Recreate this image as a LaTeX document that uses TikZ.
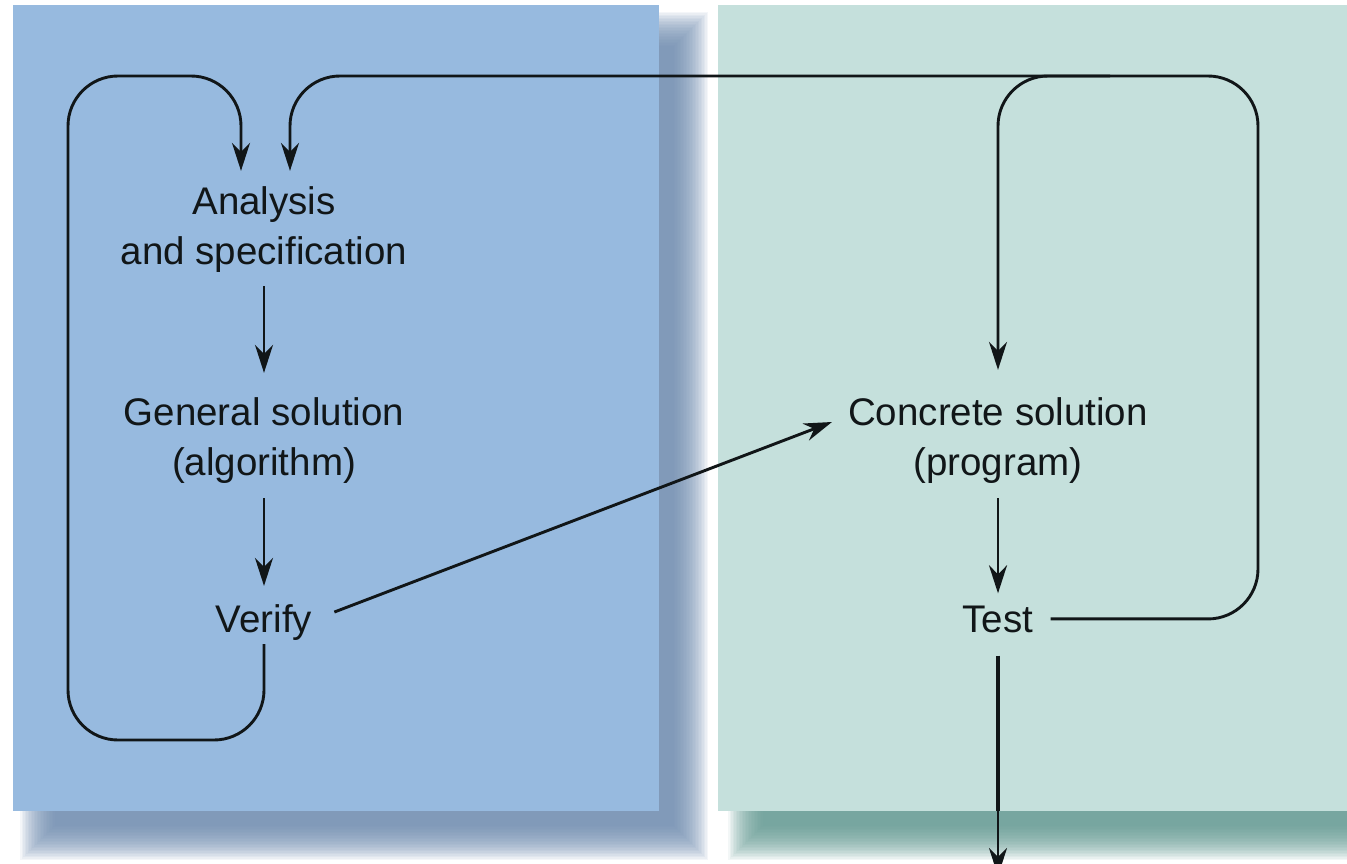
\documentclass[tikz,border=0pt]{standalone}
\usepackage{fontspec}
\setmainfont{Liberation Sans}
\usetikzlibrary{arrows.meta}
\definecolor{bluepanel}{RGB}{151,186,223}
\definecolor{greenpanel}{RGB}{197,224,220}
\definecolor{blueshadow}{RGB}{112,142,178}
\definecolor{greenshadow}{RGB}{100,156,149}
\definecolor{ink}{RGB}{17,22,24}
\tikzset{
  lbl/.style={inner sep=0pt, align=center, font=\fontsize{38.5}{50}\selectfont, text=ink},
  conn/.style={draw=ink, line width=2.9pt},
  arr/.style={conn, -{Stealth[length=28pt,width=18pt,inset=9pt]}},
  loop/.style={arr, rounded corners=50pt},
}
\begin{document}
\begin{tikzpicture}[x=1pt,y=-1pt]
\useasboundingbox (0,0) rectangle (1347,864);
\fill[white] (0,0) rectangle (1347,864);
% shadows
\foreach \k in {0,...,23} {
  \fill[blueshadow, fill opacity=0.075] (20+1.5*\k,12+1.5*\k) rectangle (708-1.5*\k,860-1.5*\k);
  \fill[greenshadow, fill opacity=0.075] (728+1.5*\k,12+1.5*\k) rectangle (1420-1.5*\k,860-1.5*\k);
}
% panels
\fill[bluepanel] (13,5) rectangle (659,811);
\fill[greenpanel] (718,5) rectangle (1360,811);

% nodes
\node[lbl] (A) at (264,230) {Analysis\\and specification};
\node[lbl] (G) at (264,441) {General solution\\(algorithm)};
\node[lbl, anchor=base] (V) at (264,632) {Verify};
\node[lbl] (C) at (998,441) {Concrete solution\\(program)};
\node[lbl, anchor=base] (T) at (998,632) {Test};

\coordinate (bl) at (68,740);
\coordinate (tl) at (68,76);
\coordinate (rc) at (1258,76);
\coordinate (br) at (1110,76);
\coordinate (pb) at (998,811);
\coordinate (out) at (998,876);

% straight connectors
\draw[arr, shorten <=13pt, shorten >=25pt] (A.south) -- (G.north);
\draw[arr, shorten <=14pt, shorten >=18pt] (G.south) -- (V.north);
\draw[arr, shorten <=14pt, shorten >=12pt] (C.south) -- (T.north);
\draw[arr] ([xshift=22pt,yshift=10pt]V.east) -- ([xshift=-16pt,yshift=19pt]C.west);
\draw[draw=ink, line width=4.8pt, shorten <=23pt] (T.south) -- (pb);
\draw[arr] (pb) -- (out);

% loops
\draw[loop] ([yshift=-4pt]V.south) -- (V.south |- bl) -- (bl) -- (tl) -- (241,76) -- ([xshift=-23pt,yshift=16pt]A.north);
\draw[loop] ([xshift=17pt]T.east) -- (T.east -| rc) -- (rc) -- (290,76) -- ([xshift=26pt,yshift=16pt]A.north);
\draw[loop] (br) -- (998,76) -- ([yshift=28pt]C.north);
\end{tikzpicture}
\end{document}
